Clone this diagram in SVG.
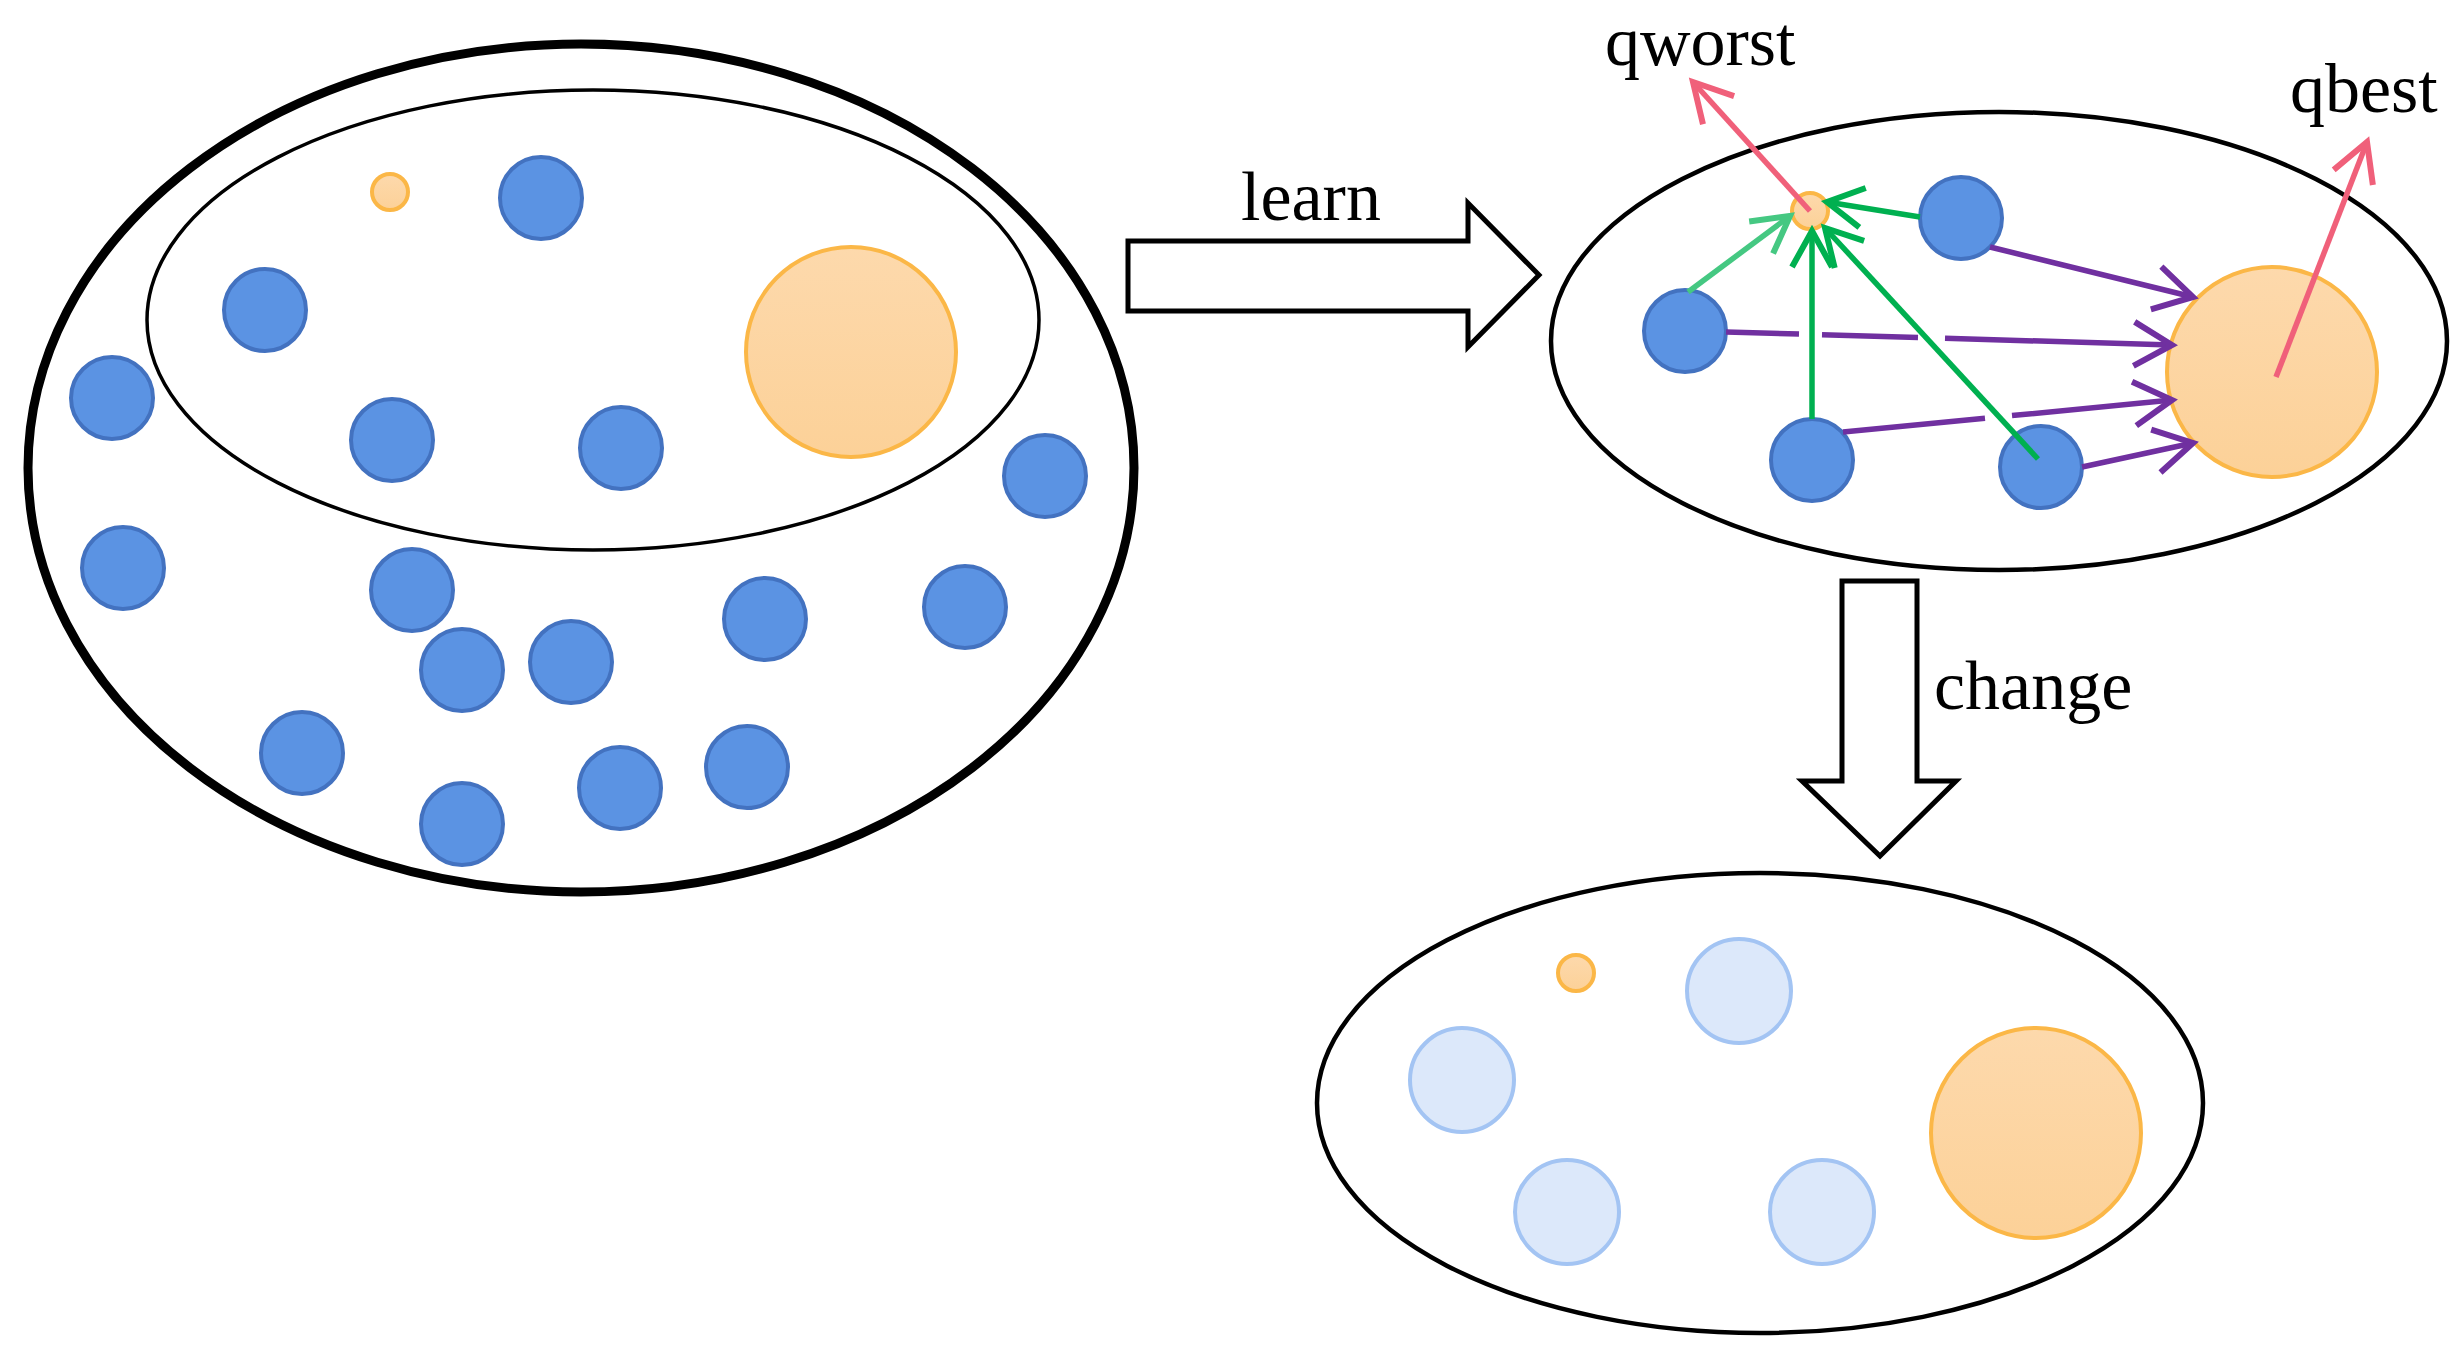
<svg xmlns="http://www.w3.org/2000/svg" width="2462" height="1360" viewBox="0 0 2462 1360">
<defs>
<style>
.frame{fill:none;stroke:#000;}
.blue{fill:#5B93E3;stroke:#4372C0;stroke-width:4;}
.pale{fill:#DCE8FA;stroke:#A3C4F3;stroke-width:4;}
.orange{fill:url(#og);stroke:#FBB747;stroke-width:4;}
.big{fill:#fff;stroke:#000;stroke-width:5;stroke-linejoin:miter;}
.lbl{font-family:"Liberation Serif","Times New Roman",serif;font-size:70px;fill:#000;}
.g{stroke:#00B050;stroke-width:5.5;fill:none;marker-end:url(#mg);}
.lg{stroke:#45C882;stroke-width:5.5;fill:none;marker-end:url(#mlg);}
.p{stroke:#7030A0;stroke-width:5.5;fill:none;marker-end:url(#mp);}
.r{stroke:#F0607A;stroke-width:5.5;fill:none;marker-end:url(#mr);}
</style>
<linearGradient id="og" x1="0" y1="0" x2="0" y2="1">
<stop offset="0" stop-color="#FDD9AC"/>
<stop offset="1" stop-color="#FCD198"/>
</linearGradient>
<marker id="mg" markerUnits="userSpaceOnUse" markerWidth="80" markerHeight="80" refX="0" refY="0" orient="auto" overflow="visible"><path d="M-36,-20 L0,0 L-36,20" fill="none" stroke="#00B050" stroke-width="6"/></marker>
<marker id="mlg" markerUnits="userSpaceOnUse" markerWidth="80" markerHeight="80" refX="0" refY="0" orient="auto" overflow="visible"><path d="M-36,-20 L0,0 L-36,20" fill="none" stroke="#45C882" stroke-width="6"/></marker>
<marker id="mp" markerUnits="userSpaceOnUse" markerWidth="80" markerHeight="80" refX="0" refY="0" orient="auto" overflow="visible"><path d="M-38,-22 L0,0 L-38,22" fill="none" stroke="#7030A0" stroke-width="6"/></marker>
<marker id="mr" markerUnits="userSpaceOnUse" markerWidth="80" markerHeight="80" refX="0" refY="0" orient="auto" overflow="visible"><path d="M-38,-21 L0,0 L-38,21" fill="none" stroke="#F0607A" stroke-width="6"/></marker>
</defs>
<rect width="2462" height="1360" fill="#fff"/>

<g id="population">
<ellipse class="frame" cx="581" cy="468" rx="553" ry="424" stroke-width="9"/>
<ellipse class="frame" cx="593" cy="320" rx="446" ry="230" stroke-width="3.5"/>
<circle class="orange" cx="390" cy="192" r="18"/>
<circle class="orange" cx="851" cy="352" r="105"/>
<circle class="blue" cx="541" cy="198" r="41"/>
<circle class="blue" cx="265" cy="310" r="41"/>
<circle class="blue" cx="112" cy="398" r="41"/>
<circle class="blue" cx="392" cy="440" r="41"/>
<circle class="blue" cx="621" cy="448" r="41"/>
<circle class="blue" cx="1045" cy="476" r="41"/>
<circle class="blue" cx="123" cy="568" r="41"/>
<circle class="blue" cx="412" cy="590" r="41"/>
<circle class="blue" cx="765" cy="619" r="41"/>
<circle class="blue" cx="965" cy="607" r="41"/>
<circle class="blue" cx="462" cy="670" r="41"/>
<circle class="blue" cx="571" cy="662" r="41"/>
<circle class="blue" cx="302" cy="753" r="41"/>
<circle class="blue" cx="462" cy="824" r="41"/>
<circle class="blue" cx="620" cy="788" r="41"/>
<circle class="blue" cx="747" cy="767" r="41"/>
</g>

<g id="learn-arrow">
<path class="big" d="M1128,241 L1468,241 L1468,203 L1539,275 L1468,347 L1468,311 L1128,311 Z"/>
<text class="lbl" x="1241" y="220">learn</text>
</g>

<g id="learning-group">
<ellipse class="frame" cx="1999" cy="341" rx="448" ry="229" stroke-width="4.5"/>
<circle class="blue" cx="1961" cy="218" r="41"/>
<circle class="blue" cx="1685" cy="331" r="41"/>
<circle class="blue" cx="1812" cy="460" r="41"/>
<circle class="blue" cx="2041" cy="467" r="41"/>
<circle class="orange" cx="2272" cy="372" r="105"/>
<circle class="orange" cx="1810" cy="211" r="18"/>
</g>

<g id="connectors">
<path class="lg" d="M1688,292 L1790,216"/>
<path class="g" d="M1920,217 L1827,202"/>
<path class="g" d="M1812,419 L1812,231"/>
<path class="g" d="M2038,459 L1825,228"/>
<path class="p" d="M1990,247 L2193,297"/>
<path class="p" d="M1726,332 L1799,334 M1822,334.7 L1918,337.5 M1945,338.3 L2172,345"/>
<path class="p" d="M1843,432 L1985,418.2 M2012,415.6 L2172,400"/>
<path class="p" d="M2082,467 L2193,443"/>
<path class="r" d="M1810,211 L1693,82"/>
<path class="r" d="M2276,377 L2367,142"/>
</g>

<g id="labels">
<text class="lbl" x="1605" y="65">qworst</text>
<text class="lbl" x="2290" y="112">qbest</text>
</g>

<g id="change-arrow">
<path class="big" d="M1842,581 L1917,581 L1917,781 L1956,781 L1880,856 L1802,781 L1842,781 Z"/>
<text class="lbl" x="1934" y="709">change</text>
</g>

<g id="changed-group">
<ellipse class="frame" cx="1760" cy="1103" rx="443" ry="230" stroke-width="4.5"/>
<circle class="orange" cx="1576" cy="973" r="18"/>
<circle class="pale" cx="1739" cy="991" r="52"/>
<circle class="pale" cx="1462" cy="1080" r="52"/>
<circle class="pale" cx="1567" cy="1212" r="52"/>
<circle class="pale" cx="1822" cy="1212" r="52"/>
<circle class="orange" cx="2036" cy="1133" r="105"/>
</g>
</svg>
